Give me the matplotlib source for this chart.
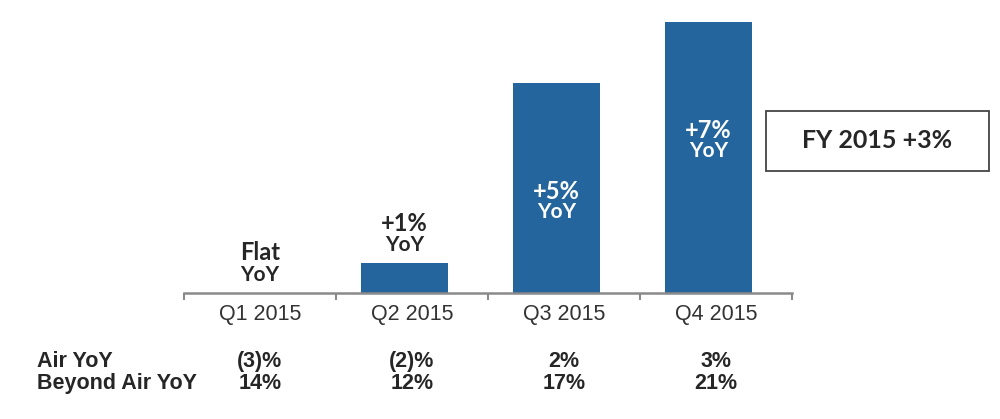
import numpy as np
import matplotlib
matplotlib.use("Agg")
import matplotlib.pyplot as plt
from matplotlib.patches import Rectangle
from matplotlib.transforms import blended_transform_factory

# 数据
quarters = ["Q1 2015", "Q2 2015", "Q3 2015", "Q4 2015"]
bar_heights = [0, 30, 210, 271]          # 相对高度（从图上估计）
growth_labels = ["Flat", "+1%", "+5%", "+7%"]
air_yoy = ["(3)%", "(2)%", "2%", "3%"]
beyond_air_yoy = ["14%", "12%", "17%", "21%"]
row_names = ["Air YoY", "Beyond Air YoY"]
fy_label = "FY 2015 +3%"

bar_color = "#25659d"
text_dark = "#262626"
axis_gray = "#8a8a8a"
label_font = ["Lato", "DejaVu Sans"]
table_font = ["Liberation Sans", "DejaVu Sans"]

fig = plt.figure(figsize=(10, 4.19), dpi=100)
ax = fig.add_axes([0.184, 126 / 419, 0.608, 280 / 419])

x = np.arange(len(quarters))
shift = -0.05  # 柱子略向左偏
ax.bar(x + shift, bar_heights, width=0.57, color=bar_color, zorder=2)

ax.set_xlim(-0.5, 3.5)
ax.set_ylim(0, 280)
for s in ["top", "right", "left"]:
    ax.spines[s].set_visible(False)
ax.spines["bottom"].set_color(axis_gray)
ax.spines["bottom"].set_linewidth(1.8)
ax.set_yticks([])
ax.set_xticks(x)
ax.set_xticklabels(quarters, fontsize=15.5, color="#333333", family=table_font)
ax.tick_params(axis="x", which="major", length=0, pad=8)
ax.set_xticks(np.arange(-0.5, 4, 1), minor=True)
ax.tick_params(axis="x", which="minor", length=5, width=1.5, color=axis_gray, direction="out")

# 柱子上的标签
for i, h in enumerate(bar_heights):
    if h < 100:
        xi = x[i] if h == 0 else x[i] + shift
        ax.text(xi, h + 40, growth_labels[i], ha="center", va="center",
                fontsize=17, fontweight="bold", color=text_dark, family=label_font)
        ax.text(xi, h + 18, "YoY", ha="center", va="center",
                fontsize=15, fontweight="bold", color=text_dark, family=label_font)
    else:
        ax.text(x[i] + shift, h - 108, growth_labels[i], ha="center", va="center",
                fontsize=17, fontweight="bold", color="white", family=label_font)
        ax.text(x[i] + shift, h - 129, "YoY", ha="center", va="center",
                fontsize=15, fontweight="bold", color="white", family=label_font)

# 下方表格
trans = blended_transform_factory(ax.transData, fig.transFigure)
row_y = [1 - 361 / 419, 1 - 383 / 419]
for name, yy in zip(row_names, row_y):
    fig.text(0.037, yy, name, ha="left", va="center", fontsize=15.5,
             fontweight="bold", color=text_dark, family=table_font)
for i in range(len(quarters)):
    ax.text(x[i], row_y[0], air_yoy[i], transform=trans, ha="center", va="center",
            fontsize=15.5, fontweight="bold", color=text_dark, family=table_font)
    ax.text(x[i], row_y[1], beyond_air_yoy[i], transform=trans, ha="center", va="center",
            fontsize=15.5, fontweight="bold", color=text_dark, family=table_font)

# FY 框
box = Rectangle((0.766, 1 - 171 / 419), 0.223, 60 / 419, transform=fig.transFigure,
                facecolor="white", edgecolor="#444444", linewidth=1.3)
fig.patches.append(box)
fig.text(0.8775, 1 - 141 / 419, fy_label, ha="center", va="center", fontsize=18,
         fontweight="bold", color=text_dark, family=label_font)

fig.savefig("out.png", dpi=100)
